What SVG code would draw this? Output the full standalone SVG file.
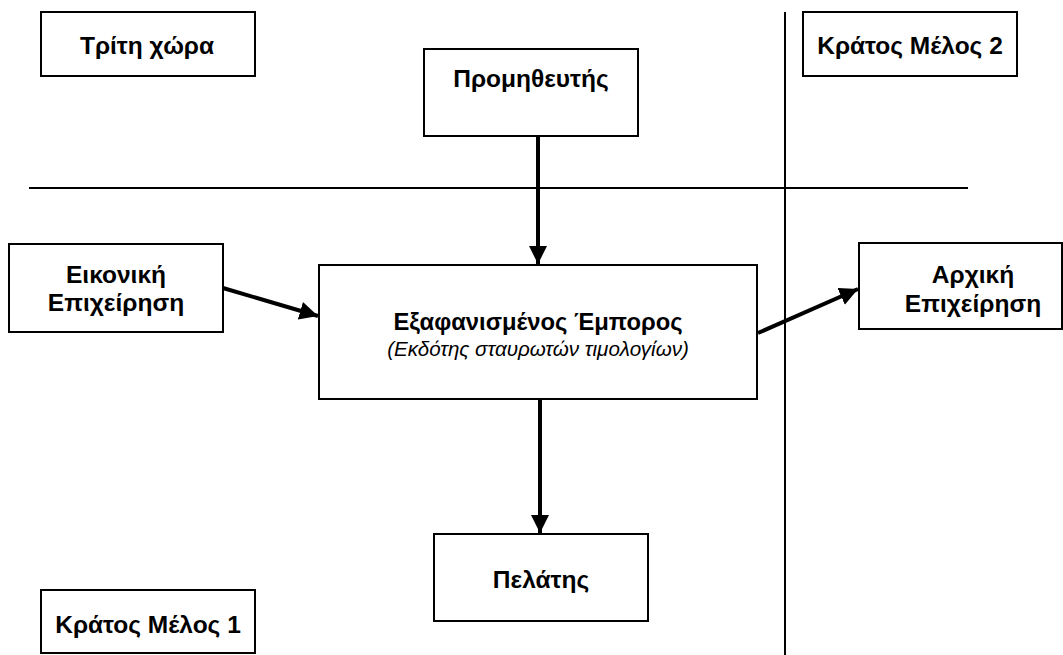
<svg xmlns="http://www.w3.org/2000/svg" width="1063" height="655" viewBox="0 0 1063 655">
<style>
.box{fill:#fff;stroke:#000;stroke-width:2}
.t{font-family:"Liberation Sans",Arial,sans-serif;font-weight:bold;font-size:24.5px;fill:#000;text-anchor:middle}
.tt{font-family:"Liberation Sans",Arial,sans-serif;font-weight:bold;font-size:23.8px;fill:#000;text-anchor:middle}
.it{font-family:"Liberation Sans",Arial,sans-serif;font-style:italic;font-size:20.6px;fill:#000;text-anchor:middle}
.rule{stroke:#000;stroke-width:2;fill:none}
.conn{stroke:#000;stroke-width:4;fill:none}
</style>
<defs>
<marker id="ah" viewBox="0 0 10 10" refX="10" refY="5" markerWidth="4.6" markerHeight="4.6" markerUnits="strokeWidth" orient="auto">
<path d="M0,0 L10,5 L0,10 Z" fill="#000"/>
</marker>
</defs>
<g id="dividers">
<line class="rule" x1="29" y1="188" x2="968" y2="188"/>
<line class="rule" x1="785" y1="12" x2="785" y2="655"/>
</g>
<g id="connectors">
<line class="conn" x1="538" y1="136" x2="538" y2="264" marker-end="url(#ah)"/>
<line class="conn" x1="223" y1="288" x2="318" y2="316" marker-end="url(#ah)"/>
<line class="conn" x1="758" y1="333" x2="858" y2="289" marker-end="url(#ah)"/>
<line class="conn" x1="540" y1="399" x2="540" y2="533" marker-end="url(#ah)"/>
</g>
<g id="triti-xora">
<rect class="box" x="41" y="12" width="214" height="64"/>
<text class="t" x="147" y="54">Τρίτη χώρα</text>
</g>
<g id="promitheftis">
<rect class="box" x="424" y="49" width="214" height="87"/>
<text class="t" x="531" y="87">Προμηθευτής</text>
</g>
<g id="kratos-melos-2">
<rect class="box" x="803" y="12" width="214" height="64"/>
<text class="t" x="910" y="54">Κράτος Μέλος 2</text>
</g>
<g id="eikoniki">
<rect class="box" x="9" y="244" width="214" height="88"/>
<text class="t" x="116" y="283">Εικονική</text>
<text class="t" x="116" y="311">Επιχείρηση</text>
</g>
<g id="exafanismenos">
<rect class="box" x="319" y="265" width="438" height="134"/>
<text class="tt" x="538" y="330">Εξαφανισμένος Έμπορος</text>
<text class="it" x="538" y="356">(Εκδότης σταυρωτών τιμολογίων)</text>
</g>
<g id="arxiki">
<rect class="box" x="859" y="243" width="203" height="86"/>
<text class="t" x="973" y="283">Αρχική</text>
<text class="t" x="973" y="312">Επιχείρηση</text>
</g>
<g id="pelatis">
<rect class="box" x="434" y="534" width="214" height="87"/>
<text class="t" x="541" y="588">Πελάτης</text>
</g>
<g id="kratos-melos-1">
<rect class="box" x="41" y="590" width="214" height="63"/>
<text class="t" x="148" y="633">Κράτος Μέλος 1</text>
</g>
</svg>
